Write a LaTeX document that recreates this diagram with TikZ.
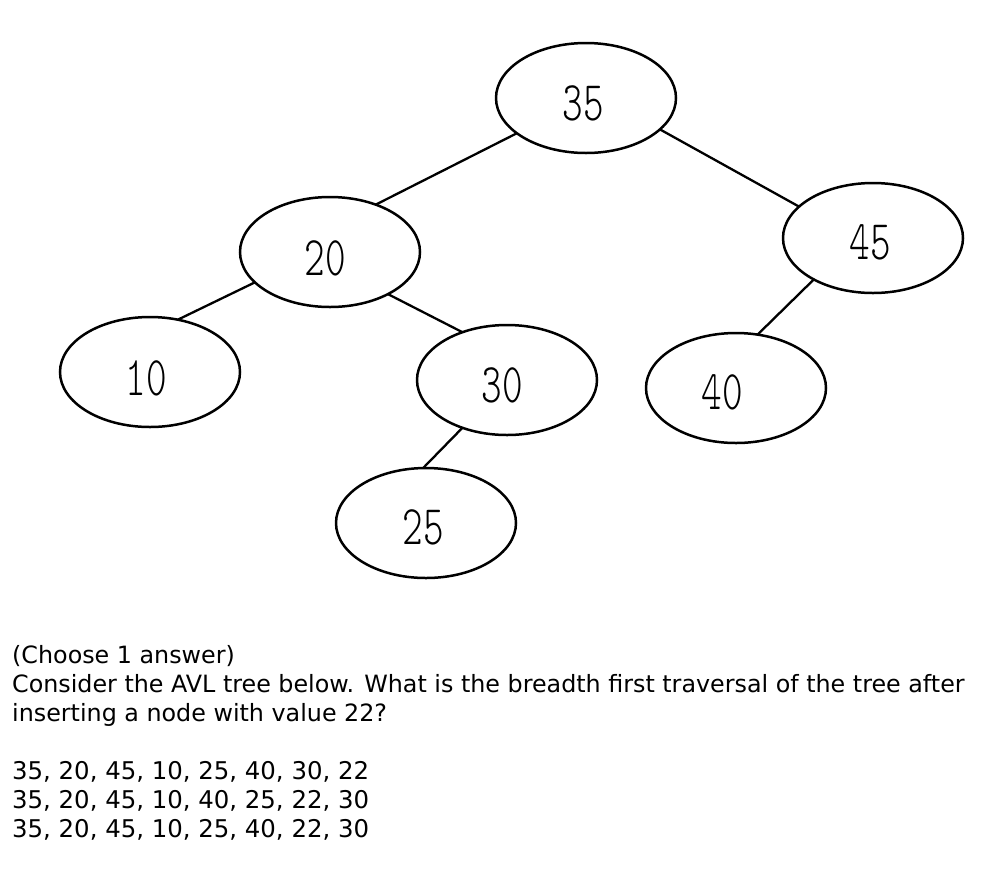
\documentclass[tikz,border=0pt]{standalone}
\usepackage{fontspec}
\setmainfont{DejaVu Sans}
\newfontfamily\numfont{Latin Modern Mono Light}
\usepackage{tikz}
\usetikzlibrary{positioning,shapes.geometric}
\tikzset{avl/.style={ellipse,draw,line width=2.5pt,minimum width=180pt,minimum height=110pt,inner sep=0pt,outer sep=0pt},
  num/.style={inner sep=0pt,font=\fontsize{56}{56}\selectfont\numfont},
  link/.style={line width=2.3pt},
  qline/.style={anchor=base west,inner sep=0pt,font=\fontsize{23.8}{29}\selectfont},
  aline/.style={qline,font=\fontsize{24.4}{29}\selectfont}}
\newcommand{\val}[1]{\scalebox{0.7}[1]{#1}}

\begin{document}
\begin{tikzpicture}[x=1pt,y=-1pt] % coordinates in pixels
    \useasboundingbox (0,0) rectangle (1000,871);
    % the tree
    \node[avl] (n35) at (586,98) {};
    \node[avl] (n20) at (330,252) {};
    \node[avl] (n45) at (873,238) {};
    \node[avl] (n10) at (150,372) {};
    \node[avl] (n30) at (507,380) {};
    \node[avl] (n40) at (736,388) {};
    \node[avl] (n25) at (426,523) {};
    % the keys, a little off centre as in the original
    \node[num] (t35) at (583,103) {\val{35}};
    \node[num] (t20) at (325,258) {\val{20}};
    \node[num] (t45) at (870,242) {\val{45}};
    \node[num] (t10) at (146,378) {\val{10}};
    \node[num] (t30) at (502,385) {\val{30}};
    \node[num] (t40) at (722,392) {\val{40}};
    \node[num] (t25) at (423,527) {\val{25}};
    \draw[link] (n35.207) -- (n20.46);
    \draw[link] (n35.337) -- (n45.157);
    \draw[link] (n20.202) -- (n10.62);
    \draw[link] (n20.324) -- (n30.133);
    \draw[link] (n45.215) -- (n40.68);
    \draw[link] (n30.227) -- (n25.93);
    % the question
    \node[qline] (q1) at (12,663) {(Choose 1 answer)};
    \node[qline] (q2) at (12,692) {Consider the AVL tree below. What is the breadth first traversal of the tree after};
    \node[qline] (q3) at (12,721) {inserting a node with value 22?};
    \node[aline] (a1) at (12,779) {35, 20, 45, 10, 25, 40, 30, 22};
    \node[aline] (a2) at (12,808) {35, 20, 45, 10, 40, 25, 22, 30};
    \node[aline] (a3) at (12,837) {35, 20, 45, 10, 25, 40, 22, 30};
\end{tikzpicture}
\end{document}
